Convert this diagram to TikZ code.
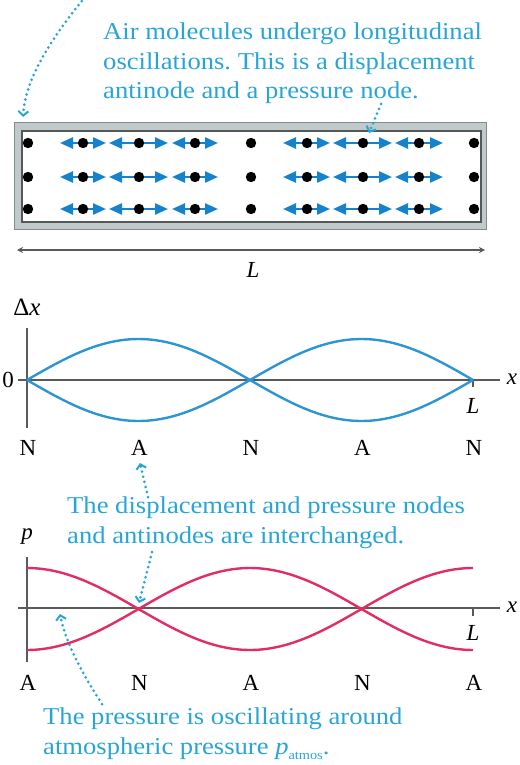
\documentclass[tikz,border=0pt]{standalone}
\usepackage{fontspec}
\setmainfont{Liberation Serif}
\newfontfamily\notefont{Liberation Serif}[FakeStretch=1.1]
\usetikzlibrary{arrows.meta}
\frenchspacing
\definecolor{noteblue}{RGB}{40,165,215}
\definecolor{molblue}{RGB}{20,130,205}
\definecolor{waveblue}{RGB}{45,150,210}
\definecolor{wavepink}{RGB}{225,45,100}
\definecolor{axisgray}{RGB}{90,90,90}
\definecolor{wallfill}{RGB}{192,202,202}
\definecolor{wallout}{RGB}{130,140,140}
\definecolor{wallin}{RGB}{85,88,88}
\tikzset{
  note/.style={text=noteblue, font=\notefont\fontsize{24.2}{29.5}\selectfont, align=left, inner sep=0pt},
  widenote/.style={note, font=\notefont\fontsize{24.2}{30}\selectfont},
  lbl/.style={font=\fontsize{23}{26}\selectfont, inner sep=0pt},
  ilbl/.style={font=\fontsize{23}{26}\selectfont\itshape, inner sep=0pt},
  pointer/.style={noteblue, line width=3pt, line cap=round, dash pattern=on 0pt off 5.2pt,
    -{Straight Barb[length=4.5pt, width=10pt, line width=2pt]}},
  molarrow/.style={molblue, line width=2.4pt, {Triangle[length=13pt,width=11pt]}-{Triangle[length=13pt,width=11pt]}},
  molecule/.style={circle, fill=black, inner sep=0pt, minimum size=10.4pt},
  axisline/.style={axisgray, line width=1.6pt},
  wave/.style={line width=2.4pt},
}
\begin{document}
\begin{tikzpicture}[x=1pt, y=-1pt]
\useasboundingbox (0,0) rectangle (519,765);

% --- tube with its wall ---
\draw[wallout, fill=wallfill, line width=1pt] (14,123) rectangle (486,229);
\draw[wallin, fill=white, line width=1.6pt] (22,131) rectangle (481,222);

% molecules and their oscillations
\foreach \r [count=\i] in {143,177,209} {
  \draw[molarrow] (60,\r) -- (106,\r);
  \draw[molarrow] (109,\r) -- (168,\r);
  \draw[molarrow] (172,\r) -- (218,\r);
  \draw[molarrow] (283,\r) -- (330,\r);
  \draw[molarrow] (333,\r) -- (392,\r);
  \draw[molarrow] (395,\r) -- (443,\r);
  \foreach \c [count=\j] in {28,83,139,195,251,307,363,419,474} {
    \node[molecule] (m\i-\j) at (\c,\r) {};
  }
}

% length of the tube
\coordinate (dimL) at (17,250);
\coordinate (dimR) at (485,250);
\draw[axisgray, line width=1.4pt, {Stealth[length=6pt,width=6pt]}-{Stealth[length=6pt,width=6pt]}] (dimL) -- (dimR);
\node[ilbl] (tubeL) at (253,270) {L};

% note at the top
\node[note, anchor=north west] (topnote) at (103,23)
  {Air molecules undergo longitudinal\\oscillations. This is a displacement\\antinode and a pressure node.};
\coordinate (topstart) at (85,-3);
\coordinate (leftend) at (23,117);
\draw[pointer] (topstart) .. controls (50,40) and (25,80) .. (leftend);
\coordinate (nodestart) at (381,104);
\coordinate (molend) at (369,133);
\draw[pointer] (nodestart) -- (molend);

% --- displacement graph ---
\coordinate (dyTop) at (27,328);
\coordinate (dyBot) at (27,428);
\coordinate (dxL) at (18,380);
\coordinate (dxR) at (500,380);
\draw[axisline] (dyTop) -- (dyBot);
\draw[axisline] (dxL) -- (dxR);
\draw[axisline] (473,380) -- (473,387);
\node[lbl] (dzero) at (8,380) {0};
\node[lbl, font=\fontsize{25}{28}\selectfont, anchor=base] (dlab) at (27,315) {Δ\textit{x}};
\node[ilbl] (dxlab) at (512,379) {x};
\node[ilbl] (dLlab) at (473,406) {L};
\draw[waveblue, wave] plot[domain=27:473, samples=101] (\x, {380-41*abs(sin((\x-27)/223*180))});
\draw[waveblue, wave] plot[domain=27:473, samples=101] (\x, {380+41*abs(sin((\x-27)/223*180))});
\foreach \t [count=\k] in {N,A,N,A,N} {
  \pgfmathsetmacro{\px}{28+111.5*(\k-1)}
  \node[lbl] (dn\k) at (\px,448) {\t};
}

% middle note
\node[widenote, anchor=north west] (midnote) at (67,497)
  {The displacement and pressure nodes\\and antinodes are interchanged.};
\coordinate (midstartA) at (148,497);
\coordinate (aend) at (140,463);
\draw[pointer] (midstartA) -- (aend);
\coordinate (midstartN) at (152,552);
\coordinate (nend) at (139,603);
\draw[pointer] (midstartN) -- (nend);

% --- pressure graph ---
\coordinate (pyTop) at (27,557);
\coordinate (pyBot) at (27,662);
\coordinate (pxL) at (18,608);
\coordinate (pxR) at (500,608);
\draw[axisline] (pyTop) -- (pyBot);
\draw[axisline] (pxL) -- (pxR);
\draw[axisline] (473,608) -- (473,616);
\node[ilbl] (plab) at (27,537) {p};
\node[ilbl] (pxlab) at (512,607) {x};
\node[ilbl] (pLlab) at (473,633) {L};
\draw[wavepink, wave] plot[domain=27:473, samples=101] (\x, {609-41*cos((\x-27)/223*180)});
\draw[wavepink, wave] plot[domain=27:473, samples=101] (\x, {609+41*cos((\x-27)/223*180)});
\foreach \t [count=\k] in {A,N,A,N,A} {
  \pgfmathsetmacro{\px}{28+111.5*(\k-1)}
  \node[lbl] (pn\k) at (\px,683) {\t};
}

% bottom note
\node[widenote, anchor=north west] (botnote) at (43,707)
  {The pressure is oscillating around\\atmospheric pressure \textit{p}{\fontsize{13}{14}\selectfont\raisebox{-5pt}{atmos}}.};
\coordinate (botstart) at (102,704);
\coordinate (axisend) at (60,614);
\draw[pointer] (botstart) .. controls (80,670) and (65,640) .. (axisend);
\end{tikzpicture}
\end{document}
